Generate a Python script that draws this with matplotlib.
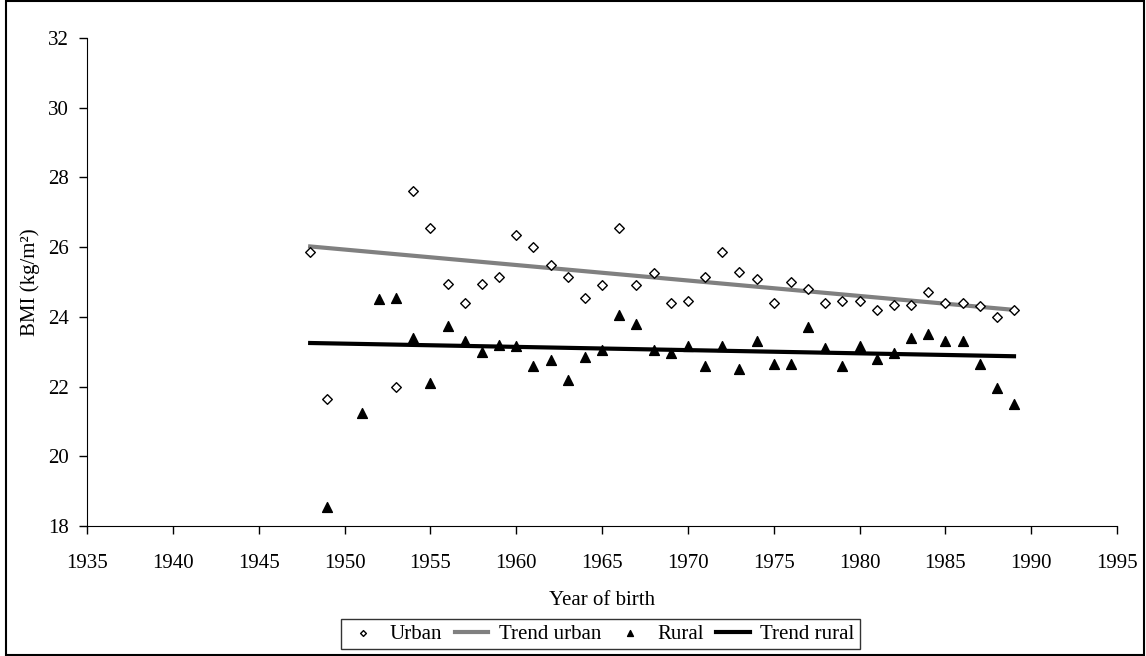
import matplotlib
matplotlib.use("Agg")
import matplotlib.pyplot as plt
from matplotlib.patches import Rectangle

plt.rcParams['font.family'] = ['Liberation Serif', 'DejaVu Serif']

# Urban BMI by year of birth
urban_years = [1948, 1949, 1953, 1954, 1955, 1956, 1957, 1958, 1959, 1960,
               1961, 1962, 1963, 1964, 1965, 1966, 1967, 1968, 1969, 1970,
               1971, 1972, 1973, 1974, 1975, 1976, 1977, 1978, 1979, 1980,
               1981, 1982, 1983, 1984, 1985, 1986, 1987, 1988, 1989]
urban_bmi = [25.85, 21.65, 22.0, 27.6, 26.55, 24.95, 24.4, 24.95, 25.15, 26.35,
             26.0, 25.5, 25.15, 24.55, 24.9, 26.55, 24.9, 25.25, 24.4, 24.45,
             25.15, 25.85, 25.3, 25.1, 24.4, 25.0, 24.8, 24.4, 24.45, 24.45,
             24.2, 24.35, 24.35, 24.7, 24.4, 24.4, 24.3, 24.0, 24.2]

# Rural BMI by year of birth
rural_years = [1949, 1951, 1952, 1953, 1954, 1955, 1956, 1957, 1958, 1959,
               1960, 1961, 1962, 1963, 1964, 1965, 1966, 1967, 1968, 1969,
               1970, 1971, 1972, 1973, 1974, 1975, 1976, 1977, 1978, 1979,
               1980, 1981, 1982, 1983, 1984, 1985, 1986, 1987, 1988, 1989]
rural_bmi = [18.55, 21.25, 24.5, 24.55, 23.4, 22.1, 23.75, 23.3, 23.0, 23.2,
             23.15, 22.6, 22.75, 22.2, 22.85, 23.05, 24.05, 23.8, 23.05, 22.95,
             23.15, 22.6, 23.15, 22.5, 23.3, 22.65, 22.65, 23.7, 23.1, 22.6,
             23.15, 22.8, 22.95, 23.4, 23.5, 23.3, 23.3, 22.65, 21.95, 21.5]

# Linear trends (end points)
trend_years = [1948, 1989]
trend_urban = [26.02, 24.2]
trend_rural = [23.25, 22.87]

x_ticks = list(range(1935, 1996, 5))
y_ticks = list(range(18, 33, 2))

W, H = 1146, 656
fig = plt.figure(figsize=(W / 100, H / 100), dpi=100)
# plot area in pixels: left, right, top, bottom
px_l, px_r, px_t, px_b = 87, 1117, 38, 526
ax = fig.add_axes([px_l / W, 1 - px_b / H, (px_r - px_l) / W, (px_b - px_t) / H])

# outer frame around the whole picture
fig.patches.append(Rectangle((6 / W, 1 / H), (W - 8) / W, (H - 2) / H, transform=fig.transFigure,
                             fill=False, edgecolor='black', linewidth=1.5))

ax.scatter(urban_years, urban_bmi, marker='D', s=24, facecolor='white',
           edgecolor='black', linewidth=1.0, label='Urban', zorder=3)
ax.plot(trend_years, trend_urban, color='#808080', linewidth=3, label='Trend urban', zorder=2)
ax.scatter(rural_years, rural_bmi, marker='^', s=50, color='black', label='Rural', zorder=3)
ax.plot(trend_years, trend_rural, color='black', linewidth=3, label='Trend rural', zorder=2)

ax.set_xlim(1935, 1995)
ax.set_ylim(18, 32)
ax.set_xticks(x_ticks)
ax.set_yticks(y_ticks)
ax.tick_params(labelsize=15, direction='out', length=6, width=1)
ax.tick_params(axis='x', pad=14)
ax.tick_params(axis='y', pad=7)
ax.spines['top'].set_visible(False)
ax.spines['right'].set_visible(False)

ax.set_xlabel('Year of birth', fontsize=15, labelpad=13)
ax.set_ylabel('BMI (kg/m²)', fontsize=15, labelpad=6)

handles, labels = ax.get_legend_handles_labels()
order = [labels.index(l) for l in ['Urban', 'Trend urban', 'Rural', 'Trend rural']]
leg = ax.legend([handles[i] for i in order], [labels[i] for i in order],
                loc='upper left', bbox_to_anchor=(341 / W, 1 - 619 / H),
                bbox_transform=fig.transFigure, ncol=4, frameon=True, fancybox=False,
                edgecolor='black', fontsize=15, handlelength=1.6, handletextpad=0.5,
                columnspacing=0.6, borderpad=0.25, borderaxespad=0, markerscale=0.6)
leg.get_frame().set_linewidth(1.0)

fig.savefig('out.png', dpi=100)
